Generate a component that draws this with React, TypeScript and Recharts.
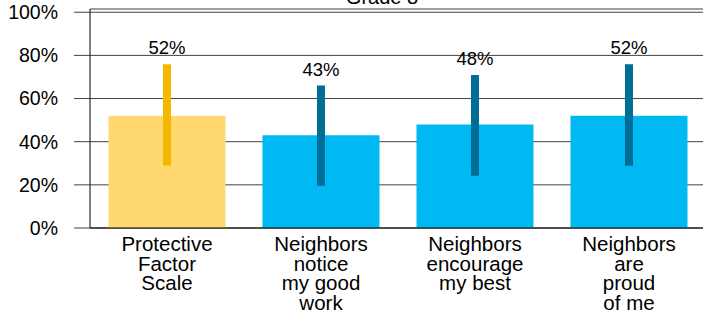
import React from "react";
import {
  BarChart,
  Bar,
  XAxis,
  YAxis,
  CartesianGrid,
  ErrorBar,
  LabelList,
} from "recharts";

const categories = [
  "Protective\nFactor\nScale",
  "Neighbors\nnotice\nmy good\nwork",
  "Neighbors\nencourage\nmy best",
  "Neighbors\nare\nproud\nof me",
];
// first bar is the scale, the rest are the items
const scaleValues = [0.52, null, null, null];
const itemValues = [null, 0.43, 0.48, 0.52];
const lowerBounds = [0.29, 0.196, 0.242, 0.289];
const upperBounds = [0.759, 0.66, 0.709, 0.759];
const valueLabels = ["52%", "43%", "48%", "52%"];
const yTicks = [0, 0.2, 0.4, 0.6, 0.8, 1];

const FONT = "'Liberation Sans', Arial, sans-serif";

const data = categories.map((name, i) => {
  const v = (scaleValues[i] ?? itemValues[i]) as number;
  const err = [v - lowerBounds[i], upperBounds[i] - v];
  return {
    name,
    scale: scaleValues[i],
    item: itemValues[i],
    scaleErr: scaleValues[i] != null ? err : null,
    itemErr: itemValues[i] != null ? err : null,
  };
});

const CategoryTick = (props: any) => {
  const { x, y, payload } = props;
  const lines = String(payload.value).split("\n");
  return (
    <text
      x={x}
      y={y + 15}
      textAnchor="middle"
      fontSize={20.5}
      fontFamily={FONT}
      fill="#000"
    >
      {lines.map((line, i) => (
        <tspan key={i} x={x} dy={i === 0 ? 0 : 19.5}>
          {line}
        </tspan>
      ))}
    </text>
  );
};

// value label sits just above the top of the error bar
const ValueLabel = (props: any) => {
  const { x, y, width, height, value } = props;
  const idx = categories.indexOf(value);
  if (idx < 0 || !height) return null;
  const v = (scaleValues[idx] ?? itemValues[idx]) as number;
  const pxPerUnit = height / v;
  const base = y + height;
  const top = base - upperBounds[idx] * pxPerUnit;
  return (
    <text
      x={x + width / 2}
      y={top - 10}
      textAnchor="middle"
      fontSize={18.5}
      fontFamily={FONT}
      fill="#000"
    >
      {valueLabels[idx]}
    </text>
  );
};

export default function App() {
  return (
    <div
      style={{
        position: "absolute",
        left: 0,
        top: 0,
        width: 703,
        height: 318,
        overflow: "hidden",
        background: "#fff",
      }}
    >
      <BarChart
        width={706}
        height={318}
        data={data}
        margin={{ top: 9, right: 0, left: 0, bottom: 0 }}
        barCategoryGap="12%"
      >
        <text
          x={382}
          y={4}
          textAnchor="middle"
          fontSize={20}
          fontFamily={FONT}
          fill="#000"
        >
          Grade 8
        </text>
        <CartesianGrid vertical={false} stroke="#404040" />
        <XAxis
          dataKey="name"
          height={90}
          interval={0}
          tickLine={false}
          axisLine={{ stroke: "#000" }}
          tick={<CategoryTick />}
        />
        <XAxis
          xAxisId="top"
          dataKey="name"
          orientation="top"
          height={0}
          tick={false}
          tickLine={false}
          axisLine={{ stroke: "#000" }}
        />
        <YAxis
          width={90}
          domain={[0, 1.015]}
          ticks={yTicks}
          allowDataOverflow
          tickSize={16}
          tickMargin={16}
          tickLine={{ stroke: "#404040" }}
          axisLine={{ stroke: "#000" }}
          tickFormatter={(v: number) => `${Math.round(v * 100)}%`}
          tick={{ fontSize: 19.5, fontFamily: FONT, fill: "#000" }}
        />
        <Bar dataKey="scale" stackId="a" fill="#FFD96F" isAnimationActive={false}>
          <ErrorBar dataKey="scaleErr" width={0} strokeWidth={8} stroke="#F4B800" />
          <LabelList dataKey="name" content={<ValueLabel />} />
        </Bar>
        <Bar dataKey="item" stackId="a" fill="#00B8F2" isAnimationActive={false}>
          <ErrorBar dataKey="itemErr" width={0} strokeWidth={8} stroke="#006D94" />
          <LabelList dataKey="name" content={<ValueLabel />} />
        </Bar>
      </BarChart>
    </div>
  );
}
